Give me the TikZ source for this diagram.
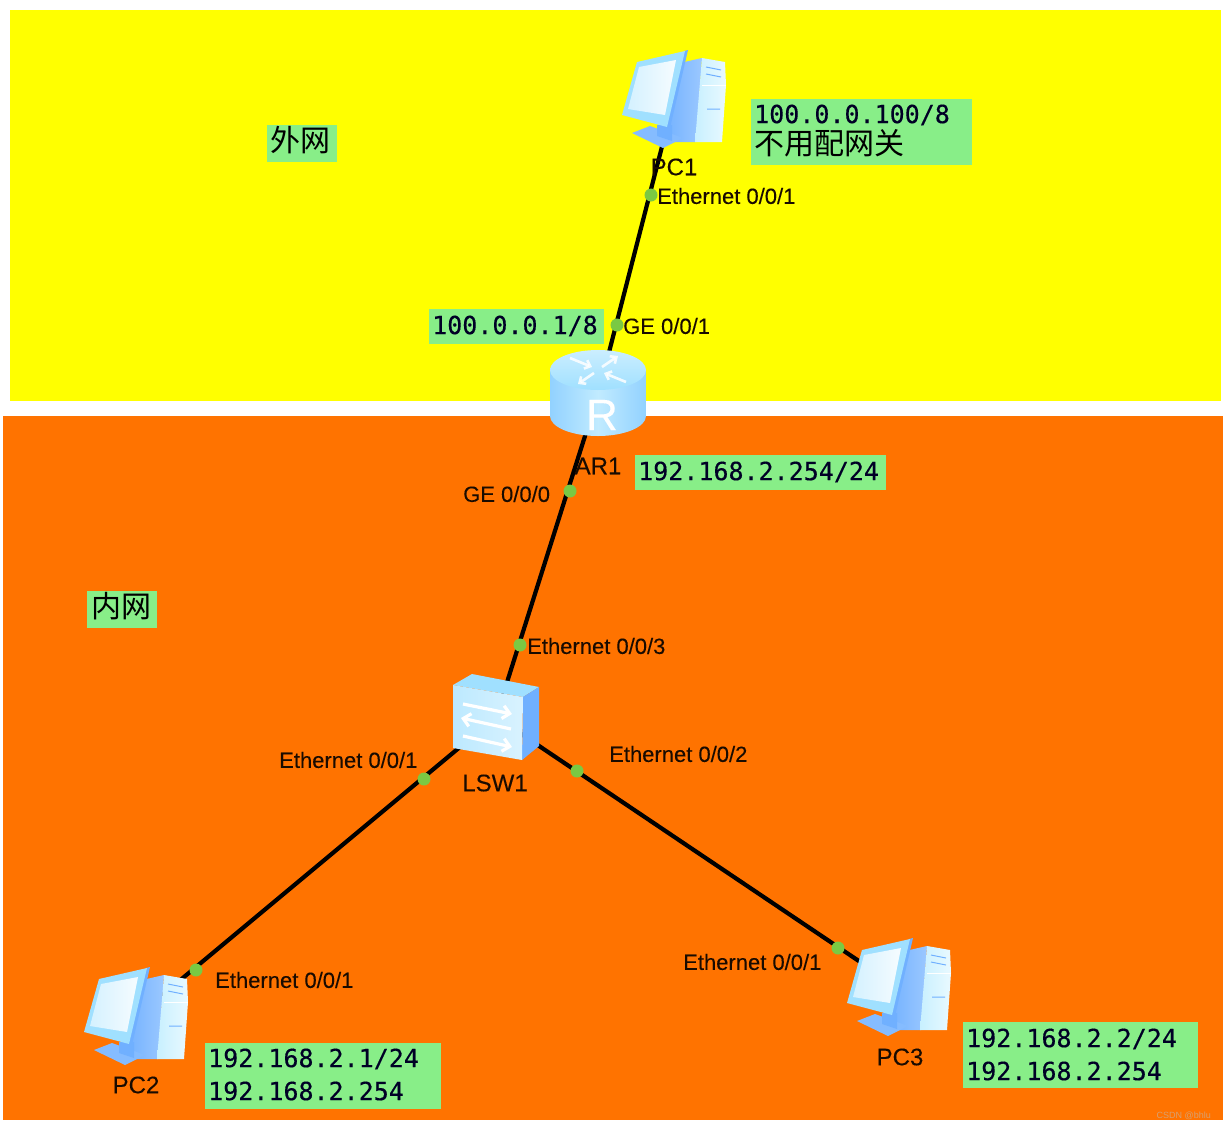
\documentclass[tikz,border=0pt]{standalone}
\usepackage{fontspec}
\setmainfont{Liberation Sans}
\newfontfamily\ipfont[FakeBold=0.35]{DejaVu Sans Mono}
\newfontfamily\portfont[FakeBold=0.15]{Liberation Sans}
\newfontfamily\cjkfont{Noto Sans CJK SC}
\usetikzlibrary{arrows.meta}
\definecolor{zonetop}{HTML}{FFFF00}
\definecolor{zonelow}{HTML}{FF7300}
\definecolor{notegreen}{HTML}{88EE88}
\definecolor{portgreen}{HTML}{7AC943}
\definecolor{iconpale}{HTML}{C8F0FF}
\definecolor{iconmid}{HTML}{A0E0FF}
\definecolor{iconblue}{HTML}{70B0FF}
\definecolor{marktan}{HTML}{D8A070}
\tikzset{
  x=1pt,y=-1pt,
  zone/.style={fill=#1,draw=none},
  link/.style={draw=black,line width=4.2pt},
  port/.style={circle,fill=portgreen,minimum size=13pt,inner sep=0pt},
  portlabel/.style={anchor=west,inner sep=0pt,font=\portfont\fontsize{22}{24}\selectfont,text=black!90!zonelow},
  devlabel/.style={anchor=center,inner sep=0pt,font=\portfont\fontsize{24}{26}\selectfont,text=black!90!zonelow},
  notebox/.style={fill=notegreen,draw=none},
  iptext/.style={anchor=west,inner sep=0pt,font=\ipfont\fontsize{25}{26}\selectfont,text=black!85!blue},
  cjktext/.style={anchor=west,inner sep=0pt,font=\cjkfont\fontsize{30}{32}\selectfont,text=black},
  hub/.style={inner sep=0pt,minimum size=1pt},
  whitearrow/.style={draw=white,line width=3.2pt,-{Straight Barb[length=7pt,width=13pt]}},
  ringarrow/.style={draw=white,line width=2.6pt,opacity=.85,-{Straight Barb[length=5pt,width=9pt]}},
  pcicon/.pic={
    % tower
    \shade[left color=iconblue,right color=iconblue!70!white] (6,-37) -- (28,-42) -- (22,42) -- (-12,42) -- cycle;
    \shade[left color=iconpale,right color=white!60!iconpale] (28,-42) -- (51,-38) -- (52,-15) -- (48,42) -- (21,42) -- cycle;
    \draw[iconblue,line width=1pt] (32,-33) -- (47,-30) (32,-26) -- (47,-23) (33,9) -- (46,9);
    \draw[white,line width=1pt] (28,-15) -- (52,-15);
    % stand and foot
    \fill[iconblue!85!white] (-42,33) -- (-24,26) -- (9,38) -- (-11,48) -- cycle;
    \fill[iconblue] (-17,25) -- (-2,25) -- (-2,41) -- (-17,36) -- cycle;
    % monitor
    \fill[iconblue] (10,-49) -- (14,-50) -- (-4,28) -- (-8,27) -- cycle;
    \fill[iconmid] (-37,-38) -- (11,-49) -- (-7,27) -- (-52,15) -- cycle;
    \shade[left color=white!55!iconmid,right color=white!90!iconmid] (-35,-33) -- (2,-40) -- (-9,15) -- (-46,9) -- cycle;
  },
  routericon/.pic={
    \shade[left color=iconmid!70!iconblue,right color=iconmid!70!iconblue,middle color=white!35!iconmid]
      (-48,-25) -- (48,-25) -- (48,21) arc[start angle=0,end angle=180,x radius=48,y radius=20] -- cycle;
    \shade[top color=white!45!iconmid,bottom color=iconmid]
      (0,-25) ellipse[x radius=48,y radius=20];
    \draw[ringarrow] (-28,-37) -- (-6,-28);
    \draw[ringarrow] (28,-13) -- (6,-22);
    \draw[ringarrow] (4,-28) -- (20,-39);
    \draw[ringarrow] (-4,-22) -- (-20,-11);
  },
  switchicon/.pic={
    \fill[iconmid] (-43,-32) -- (-24,-43) -- (43,-30) -- (27,-20) -- cycle;
    \fill[iconblue] (27,-20) -- (43,-30) -- (43,29) -- (26,43) -- cycle;
    \shade[left color=iconmid!70!white,right color=white!60!iconmid] (-43,-32) -- (27,-20) -- (26,43) -- (-43,31) -- cycle;
    \draw[whitearrow] (-33,-13) -- (16,-3);
    \draw[whitearrow] (15,12) -- (-35,1);
    \draw[whitearrow] (-33,19) -- (16,30);
  },
}
\begin{document}
\begin{tikzpicture}
\useasboundingbox (0,0) rectangle (1226,1130);
\fill[white] (0,0) rectangle (1226,1130);
% network zones
\path[zone=zonetop] (10,10) rectangle (1221,401);
\path[zone=zonelow] (3,416) rectangle (1223,1120);

% device anchors
\node[hub] (pc1) at (674,100) {};
\node[hub] (ar1) at (598,395) {};
\node[hub] (lsw1) at (496,717) {};
\node[hub] (pc2) at (136,1017) {};
\node[hub] (pc3) at (899,988) {};

% links
\draw[link] (pc1) -- (ar1);
\draw[link] (ar1) -- (lsw1);
\draw[link] (lsw1) -- (pc2);
\draw[link] (lsw1) -- (pc3);

% device icons
\pic at (pc1) {pcicon};
\pic at (pc2) {pcicon};
\pic at (pc3) {pcicon};
\pic at (ar1) {routericon};
\pic at (lsw1) {switchicon};

% port markers
\node[port] (p1) at (651,195) {};
\node[port] (p2) at (617,325) {};
\node[port] (p3) at (570,491) {};
\node[port] (p4) at (520,645) {};
\node[port] (p5) at (424,779) {};
\node[port] (p6) at (577,771) {};
\node[port] (p7) at (196,970) {};
\node[port] (p8) at (838,948) {};

% device names
\node[devlabel] (n1) at (674,167) {PC1};
\node[devlabel] (n2) at (598,466) {AR1};
\node[devlabel] (n3) at (495,783) {LSW1};
\node[devlabel] (n4) at (136,1085) {PC2};
\node[devlabel] (n5) at (900,1057) {PC3};
\node[anchor=center,inner sep=0pt,text=white,font=\portfont\fontsize{44}{44}\selectfont] (rr) at (602,415) {R};

% port names
\node[portlabel] (l1) at (657,196) {Ethernet 0/0/1};
\node[portlabel] (l2) at (623,326) {GE 0/0/1};
\node[portlabel] (l3) at (463,494) {GE 0/0/0};
\node[portlabel] (l4) at (527,646) {Ethernet 0/0/3};
\node[portlabel] (l5) at (279,760) {Ethernet 0/0/1};
\node[portlabel] (l6) at (609,754) {Ethernet 0/0/2};
\node[portlabel] (l7) at (215,980) {Ethernet 0/0/1};
\node[portlabel] (l8) at (683,962) {Ethernet 0/0/1};

% address notes
\fill[notebox] (751,99) rectangle (972,165);
\node[iptext] (a1) at (754,115) {100.0.0.100/8};
\node[cjktext] (a2) at (754,143) {不用配网关};
\fill[notebox] (429,309) rectangle (604,344);
\node[iptext] (a3) at (432,326) {100.0.0.1/8};
\fill[notebox] (635,455) rectangle (886,490);
\node[iptext] (a4) at (638,472) {192.168.2.254/24};
\fill[notebox] (205,1043) rectangle (441,1109);
\node[iptext] (a5) at (208,1059) {192.168.2.1/24};
\node[iptext] (a6) at (208,1091) {192.168.2.254};
\fill[notebox] (963,1022) rectangle (1198,1088);
\node[iptext] (a7) at (966,1039) {192.168.2.2/24};
\node[iptext] (a8) at (966,1071) {192.168.2.254};

% zone names
\fill[notebox] (267,125) rectangle (337,162);
\node[cjktext] (z1) at (270,140) {外网};
\fill[notebox] (87,591) rectangle (157,628);
\node[cjktext] (z2) at (91,606) {内网};

\node[anchor=east,inner sep=0pt,text=marktan,font=\fontsize{9}{10}\selectfont] (wm) at (1211,1116) {CSDN @bhlu};
\end{tikzpicture}
\end{document}
